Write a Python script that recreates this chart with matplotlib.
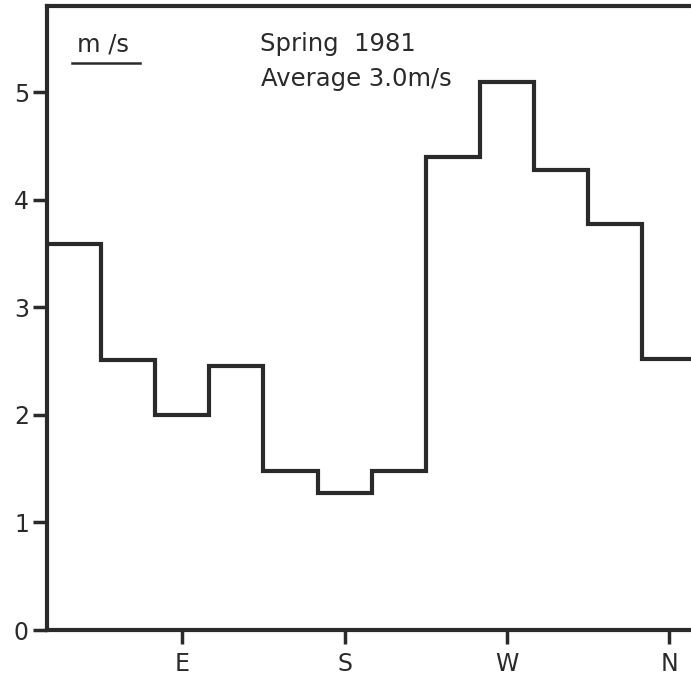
import numpy as np
import matplotlib.pyplot as plt

# wind speed per 30 deg sector, spring 1981
centers = [30, 60, 90, 120, 150, 180, 210, 240, 270, 300, 330, 360]
speed = [3.59, 2.51, 2.00, 2.45, 1.48, 1.27, 1.48, 4.40, 5.09, 4.28, 3.77, 2.52]
dir_ticks = [90, 180, 270, 360]
dir_labels = ['E', 'S', 'W', 'N']
y_ticks = [0, 1, 2, 3, 4, 5]

plt.rcParams['font.family'] = ['DejaVu Sans']
col = '#2a2a2a'

fig = plt.figure(figsize=(6.91, 6.82), dpi=100)
W, H = 691, 682
ax = fig.add_axes([47/W, 52/H, (W - 47)/W, 624/H])

edges = np.concatenate([[centers[0] - 15], np.array(centers) + 15])
ax.stairs(speed, edges, color=col, lw=3.0, baseline=None)

ax.set_xlim(15, 372)
ax.set_ylim(0, 5.8)
ax.set_xticks(dir_ticks)
ax.set_xticklabels(dir_labels)
ax.set_yticks(y_ticks)
ax.tick_params(axis='both', direction='out', color=col, width=2.5, labelsize=17, labelcolor=col)
ax.tick_params(axis='x', length=10, pad=6)
ax.tick_params(axis='y', length=10, pad=3)
ax.spines['right'].set_visible(False)
for s in ['left', 'bottom', 'top']:
    ax.spines[s].set_linewidth(3.0)
    ax.spines[s].set_color(col)

# header texts (pixel positions from the top-left corner)
fig.text(77/W, 1 - 52/H, 'm /s', fontsize=17.5, color=col, ha='left', va='baseline')
fig.add_artist(plt.Line2D([72/W, 140/W], [1 - 63/H, 1 - 63/H], color=col, lw=1.8))
fig.text(260/W, 1 - 51/H, 'Spring  1981', fontsize=17.5, color=col, ha='left', va='baseline')
fig.text(261/W, 1 - 86/H, 'Average 3.0m/s', fontsize=17.5, color=col, ha='left', va='baseline')

fig.savefig('out.png', dpi=100)
